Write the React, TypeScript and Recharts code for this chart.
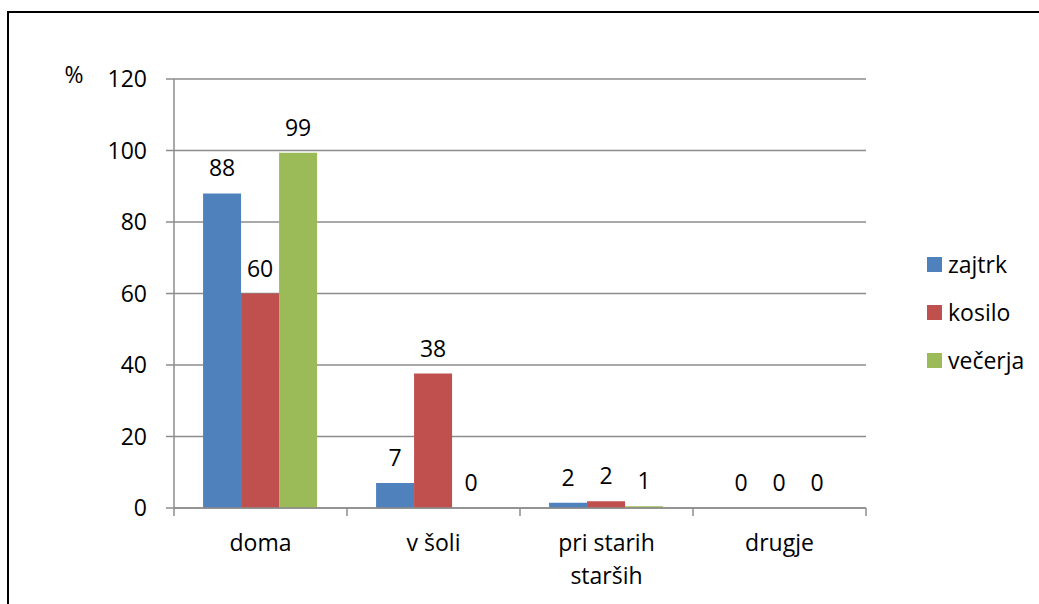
import { BarChart, Bar, XAxis, YAxis, CartesianGrid, Legend, LabelList } from "recharts";

const categories = ["doma", "v šoli", "pri starih starših", "drugje"];
const zajtrk = [88, 7, 1.5, 0];
const kosilo = [60, 37.6, 1.9, 0];
const vecerja = [99.4, 0, 0.5, 0];
const yTicks = [0, 20, 40, 60, 80, 100, 120];

const series = [
  { key: "zajtrk", name: "zajtrk", color: "#4F81BD" },
  { key: "kosilo", name: "kosilo", color: "#C0504D" },
  { key: "vecerja", name: "večerja", color: "#9BBB59" },
];

const data = categories.map((c, i) => ({
  cat: c,
  zajtrk: zajtrk[i],
  kosilo: kosilo[i],
  vecerja: vecerja[i],
}));

const FONT = "'Open Sans', Lato, sans-serif";
const FS = 23;
const GRID = "#8c8c8c";

// greedy wrap by characters, good enough for these short labels
function wrap(s: string, max = 11) {
  const lines: string[] = [];
  let cur = "";
  for (const w of s.split(" ")) {
    if (cur && (cur + " " + w).length > max) {
      lines.push(cur);
      cur = w;
    } else cur = cur ? cur + " " + w : w;
  }
  if (cur) lines.push(cur);
  return lines;
}

// category label + tick marks on the band edges (Excel style)
function CatTick(props: any) {
  const { x, y, payload, width, visibleTicksCount, index } = props;
  const band = width / visibleTicksCount;
  const axisY = y - 10;
  const left = x - band / 2;
  return (
    <g>
      <line x1={left} y1={axisY} x2={left} y2={axisY + 8} stroke={GRID} strokeWidth={1.5} />
      {index === visibleTicksCount - 1 && (
        <line x1={x + band / 2} y1={axisY} x2={x + band / 2} y2={axisY + 8} stroke={GRID} strokeWidth={1.5} />
      )}
      <text textAnchor="middle" fontSize={FS} fontFamily={FONT} fill="#000">
        {wrap(payload.value).map((ln, i) => (
          <tspan key={i} x={x} y={y + 33 + i * 33}>
            {ln}
          </tspan>
        ))}
      </text>
    </g>
  );
}

function LegendBox() {
  return (
    <div style={{ fontFamily: FONT, fontSize: FS, color: "#000", lineHeight: 1 }}>
      {series.map((s) => (
        <div key={s.key} style={{ height: 48, display: "flex", alignItems: "center" }}>
          <span style={{ width: 15, height: 15, background: s.color, display: "inline-block", marginRight: 6 }} />
          <span>{s.name}</span>
        </div>
      ))}
    </div>
  );
}

export default function App() {
  return (
    <div style={{ position: "fixed", left: 0, top: 0, width: 1039, height: 604, overflow: "hidden", background: "#fff" }}>
      <div
        style={{
          position: "absolute",
          left: 7,
          top: 11,
          width: 1100,
          height: 700,
          border: "2px solid #000",
        }}
      />
      <div style={{ position: "absolute", left: 0, top: 0 }}>
        <BarChart
          width={1039}
          height={604}
          data={data}
          margin={{ top: 79, right: 53, bottom: 26, left: 0 }}
          barCategoryGap="16.8%"
          barGap={0}
        >
          <CartesianGrid vertical={false} stroke={GRID} strokeWidth={1.5} />
          <XAxis
            dataKey="cat"
            height={70}
            stroke={GRID}
            strokeWidth={1.5}
            tickLine={false}
            tickSize={8}
            tickMargin={2}
            interval={0}
            tick={<CatTick />}
          />
          <YAxis
            width={174}
            domain={[0, 120]}
            ticks={yTicks}
            stroke={GRID}
            strokeWidth={1.5}
            tickSize={8}
            tickMargin={19}
            tick={{ fill: "#000", fontSize: FS, fontFamily: FONT }}
            label={{
              content: (p: any) => (
                <text
                  x={(p.viewBox?.x ?? 0) + 74}
                  y={(p.viewBox?.y ?? 79) + 4}
                  textAnchor="middle"
                  fontSize={FS}
                  fontFamily={FONT}
                  fill="#000"
                >
                  %
                </text>
              ),
            }}
          />
          <Legend
            layout="vertical"
            align="right"
            verticalAlign="middle"
            content={<LegendBox />}
            wrapperStyle={{ width: 120, left: 927, top: 240, right: "auto" }}
          />
          {series.map((s) => (
            <Bar
              key={s.key}
              dataKey={s.key}
              name={s.name}
              fill={s.color}
              minPointSize={0.01}
              isAnimationActive={false}
            >
              <LabelList
                dataKey={s.key}
                position="top"
                offset={17}
                formatter={(v: any) => String(Math.round(Number(v)))}
                style={{ fontSize: FS, fontFamily: FONT, fill: "#000" }}
              />
            </Bar>
          ))}
        </BarChart>
      </div>
    </div>
  );
}
